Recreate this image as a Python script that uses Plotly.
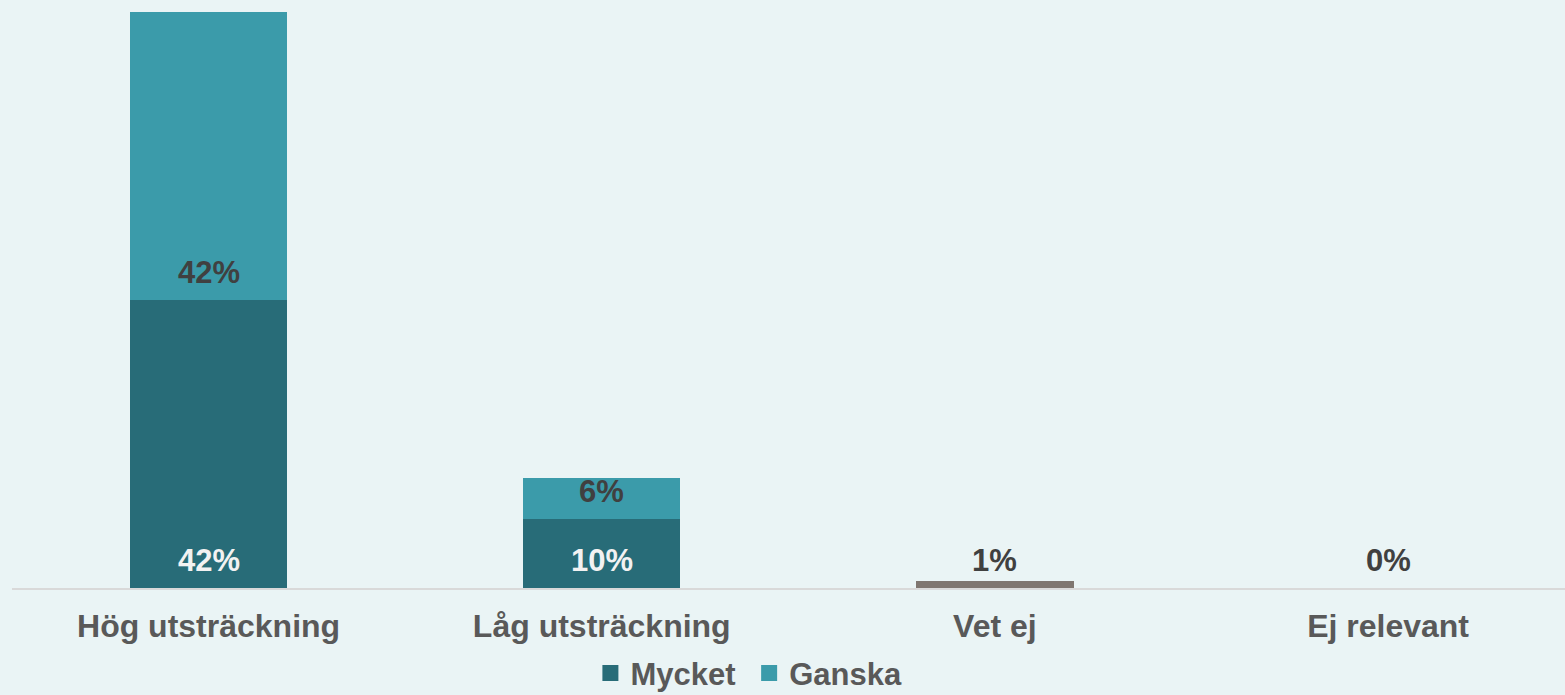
import plotly.graph_objects as go

categories = ["Hög utsträckning", "Låg utsträckning", "Vet ej", "Ej relevant"]
mycket = [42, 10, None, None]
ganska = [42, 6, None, None]
ovrigt = [None, None, 1, 0]
series_names = ["Mycket\u00a0", "Ganska"]

C_MYCKET = "#286C78"
C_GANSKA = "#3B9BAA"
C_OVRIGT = "#7F7670"
BG = "#EAF4F5"
FONT = "Liberation Sans, Arial, sans-serif"

fig = go.Figure()
fig.add_trace(go.Bar(name="Mycket", x=categories, y=[v or 0 for v in mycket],
                     marker=dict(color=C_MYCKET, line=dict(width=0)), width=0.4, showlegend=False))
fig.add_trace(go.Bar(name="Ganska", x=categories, y=[v or 0 for v in ganska],
                     marker=dict(color=C_GANSKA, line=dict(width=0)), width=0.4, showlegend=False))
fig.add_trace(go.Bar(name="Övrigt", x=categories, y=[v or 0 for v in ovrigt],
                     marker=dict(color=C_OVRIGT, line=dict(width=0)), width=0.4,
                     showlegend=False))
# legend entries with larger square swatches
for name, col in zip(series_names, [C_MYCKET, C_GANSKA]):
    fig.add_trace(go.Scatter(name=name, x=[None], y=[None], mode="markers",
                             marker=dict(symbol="square", size=16, color=col),
                             showlegend=True, hoverinfo="skip"))

ann = []
for i, c in enumerate(categories):
    if mycket[i] is not None:
        ann.append(dict(x=c, y=0, yshift=28, text=f"{mycket[i]}%", showarrow=False,
                        yanchor="middle", font=dict(family=FONT, size=31, color="#F2F2F2", weight="bold")))
    if ganska[i] is not None:
        ann.append(dict(x=c, y=mycket[i] or 0, yshift=28, text=f"{ganska[i]}%", showarrow=False,
                        yanchor="middle", font=dict(family=FONT, size=31, color="#404040", weight="bold")))
    if ovrigt[i] is not None:
        ann.append(dict(x=c, y=0, yshift=28, text=f"{ovrigt[i]}%", showarrow=False,
                        yanchor="middle", font=dict(family=FONT, size=31, color="#404040", weight="bold")))

fig.update_layout(
    barmode="stack",
    width=1565, height=695,
    paper_bgcolor=BG, plot_bgcolor=BG,
    margin=dict(l=12, r=0, t=0, b=107, autoexpand=False),
    font=dict(family=FONT),
    annotations=ann,
    showlegend=True,
    legend=dict(orientation="h", x=0.4745, xanchor="center",
                yref="container", y=0.031, yanchor="middle",
                font=dict(family=FONT, size=31, color="#595959", weight="bold"),
                bgcolor="rgba(0,0,0,0)", itemwidth=30, traceorder="normal"),
    xaxis=dict(range=[-0.5, 3.45], showgrid=False, zeroline=False, automargin=False,
               showline=True, linecolor="#D9D9D9", linewidth=2,
               ticks="outside", ticklen=9, tickcolor="rgba(0,0,0,0)",
               tickfont=dict(family=FONT, size=32, color="#595959", weight="bold")),
    yaxis=dict(range=[0, 85.75], visible=False, showgrid=False, zeroline=False),
)

fig.write_html("out.html", config={"displayModeBar": False},
               post_script="document.body.style.margin='0';document.body.style.background='%s';" % BG)
